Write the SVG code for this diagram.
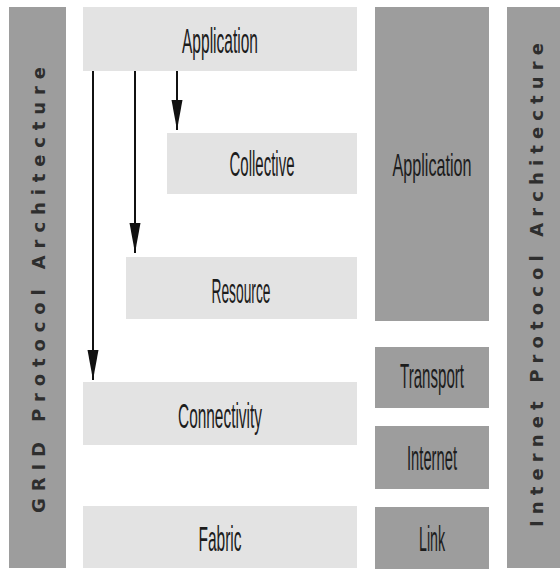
<svg xmlns="http://www.w3.org/2000/svg" width="560" height="571" viewBox="0 0 560 571">
<style>
.bg{fill:#ffffff}
.dark{fill:#9d9d9d}
.light{fill:#e3e3e3}
.lbl{font-family:"Liberation Sans Narrow","Liberation Sans",Arial,sans-serif;font-size:35px;fill:#1c1c1c;text-anchor:middle}
.sm{font-size:32px}
.vert{font-family:"DejaVu Sans","Liberation Sans",sans-serif;font-weight:bold;font-size:18px;fill:#2e2e2e;text-anchor:middle}
.conn{stroke:#111;stroke-width:2;fill:none}
</style>
<defs>
<marker id="ah" markerUnits="userSpaceOnUse" markerWidth="32" markerHeight="12" refX="30" refY="5.5" orient="auto">
<path d="M0,0 L30,5.5 L0,11 Z" fill="#111"/>
</marker>
</defs>
<rect class="bg" x="0" y="0" width="560" height="571"/>
<g id="grid-arch">
<rect class="dark" x="9" y="7" width="57" height="561"/>
<text class="vert" transform="translate(45,290) rotate(-90)" textLength="446" lengthAdjust="spacing">GRID Protocol Architecture</text>
</g>
<g id="grid-application">
<rect class="light" x="83" y="7" width="274" height="64"/>
<text class="lbl" x="220" y="53" textLength="76" lengthAdjust="spacingAndGlyphs">Application</text>
</g>
<g id="collective">
<rect class="light" x="167" y="133" width="190" height="61"/>
<text class="lbl" x="262" y="176" textLength="65" lengthAdjust="spacingAndGlyphs">Collective</text>
</g>
<g id="resource">
<rect class="light" x="126" y="257" width="231" height="62"/>
<text class="lbl" x="241" y="303" textLength="59" lengthAdjust="spacingAndGlyphs">Resource</text>
</g>
<g id="connectivity">
<rect class="light" x="83" y="382" width="274" height="63"/>
<text class="lbl" x="220" y="428" textLength="84" lengthAdjust="spacingAndGlyphs">Connectivity</text>
</g>
<g id="fabric">
<rect class="light" x="83" y="506" width="274" height="62"/>
<text class="lbl" x="220" y="551" textLength="43" lengthAdjust="spacingAndGlyphs">Fabric</text>
</g>
<g id="ip-application">
<rect class="dark" x="375" y="7" width="114" height="314"/>
<text class="lbl sm" x="432" y="176" textLength="79" lengthAdjust="spacingAndGlyphs">Application</text>
</g>
<g id="transport">
<rect class="dark" x="375" y="347" width="114" height="61"/>
<text class="lbl" x="432" y="388" textLength="64" lengthAdjust="spacingAndGlyphs">Transport</text>
</g>
<g id="internet">
<rect class="dark" x="375" y="426" width="114" height="63"/>
<text class="lbl" x="432" y="470" textLength="50" lengthAdjust="spacingAndGlyphs">Internet</text>
</g>
<g id="link">
<rect class="dark" x="375" y="507" width="114" height="62"/>
<text class="lbl" x="432" y="551" textLength="26" lengthAdjust="spacingAndGlyphs">Link</text>
</g>
<g id="ip-arch">
<rect class="dark" x="507" y="7" width="53" height="561"/>
<text class="vert" transform="translate(543,285) rotate(-90)" textLength="484" lengthAdjust="spacing">Internet Protocol Architecture</text>
</g>
<g id="connectors">
<line class="conn" x1="93" y1="71" x2="93" y2="380" marker-end="url(#ah)"/>
<line class="conn" x1="135" y1="71" x2="135" y2="253" marker-end="url(#ah)"/>
<line class="conn" x1="177" y1="71" x2="177" y2="130" marker-end="url(#ah)"/>
</g>
</svg>
